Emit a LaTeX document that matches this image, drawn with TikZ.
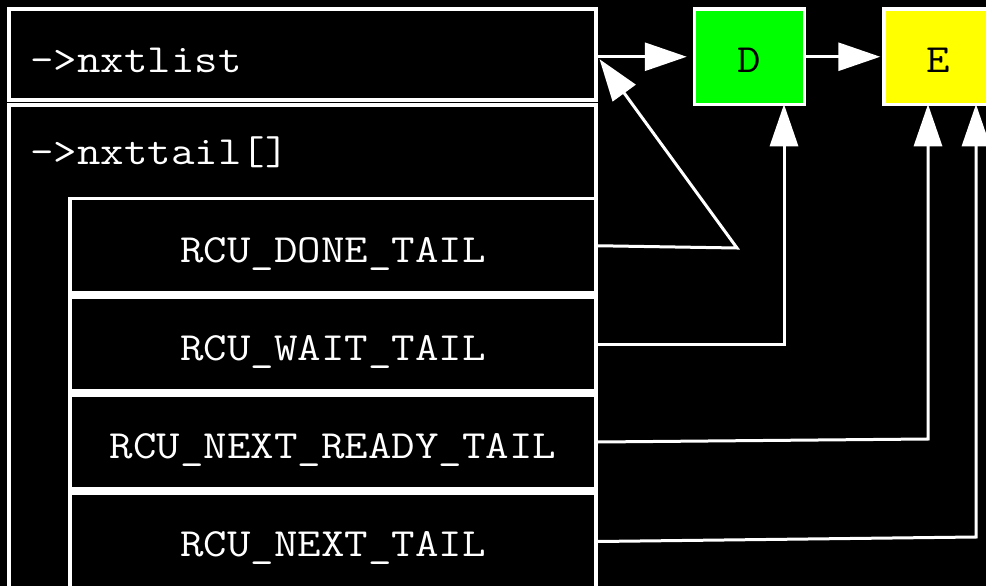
\documentclass[tikz,border=0pt]{standalone}
\usepackage{fontspec}
\setmonofont[FakeStretch=1.14]{Latin Modern Mono}
\usetikzlibrary{arrows.meta}
\definecolor{dgreen}{RGB}{0,255,0}
\definecolor{eyellow}{RGB}{255,255,0}
\begin{document}
\begin{tikzpicture}[x=1pt,y=-1pt,
  box/.style={draw=white, line width=3.5pt, fill=black, inner sep=0pt},
  lbl/.style={text=white, font=\ttfamily\fontsize{40}{40}\selectfont, inner sep=0pt, anchor=base},
  link/.style={draw=white, line width=3pt, line join=miter, -{Triangle[length=42pt,width=28pt]}}]
\fill[black] (0,0) rectangle (986,586);
\useasboundingbox (0,0) rectangle (986,586);
\clip (0,0) rectangle (986,586);

% rcu_data structure: list head and tail-pointer array
\node[box, minimum width=587pt, minimum height=91pt] (head) at (302.5,54.5) {};
\node[box, minimum width=587pt, minimum height=515pt] (tails) at (302.5,362.5) {};
\node[lbl, anchor=base west] (headtxt) at (30,73) {->nxtlist};
\node[lbl, anchor=base west] (tailstxt) at (30,164) {->nxttail[]};

% the four segment tail pointers
\node[box, minimum width=526pt, minimum height=94.5pt] (done) at (333,245.75) {};
\node[box, minimum width=526pt, minimum height=94pt] (wait) at (333,344) {};
\node[box, minimum width=526pt, minimum height=94pt] (ready) at (333,442) {};
\node[box, minimum width=526pt, minimum height=127pt] (next) at (333,556.5) {};
\node[lbl] (donetxt) at (333,262) {RCU\_DONE\_TAIL};
\node[lbl] (waittxt) at (333,360) {RCU\_WAIT\_TAIL};
\node[lbl] (readytxt) at (333,458) {RCU\_NEXT\_READY\_TAIL};
\node[lbl] (nexttxt) at (333,556) {RCU\_NEXT\_TAIL};

% callbacks
\node[box, fill=dgreen, minimum width=110pt, minimum height=95.5pt] (D) at (749.5,56.75) {};
\node[box, fill=eyellow, minimum width=110pt, minimum height=95.5pt] (E) at (939,56.75) {};
\node[lbl, text=black] (Dtxt) at (749,73) {D};
\node[lbl, text=black] (Etxt) at (938,73) {E};

% list links
\draw[link, shorten >=6pt] (head.east |- D.west) -- (D.west);
\draw[link, shorten >=2pt] (D.east) -- (E.west);

% tail pointers
\coordinate (donebend) at (737,248);
\draw[link, shorten >=3pt] (done.east) -- (donebend) -- (head.east |- D.west);
\draw[link, shorten >=-2pt] (wait.east) -| ([xshift=34.5pt]D.south);
\coordinate (readybend) at (928,439);
\draw[link, shorten >=-2pt] (ready.east) -- (readybend) -- (readybend |- E.south);
\coordinate (nextstart) at ([yshift=15pt]next.east);
\coordinate (nextbend) at (976,537);
\draw[link, shorten >=-2pt] (nextstart) -- (nextbend) -- (nextbend |- E.south);
\end{tikzpicture}
\end{document}
